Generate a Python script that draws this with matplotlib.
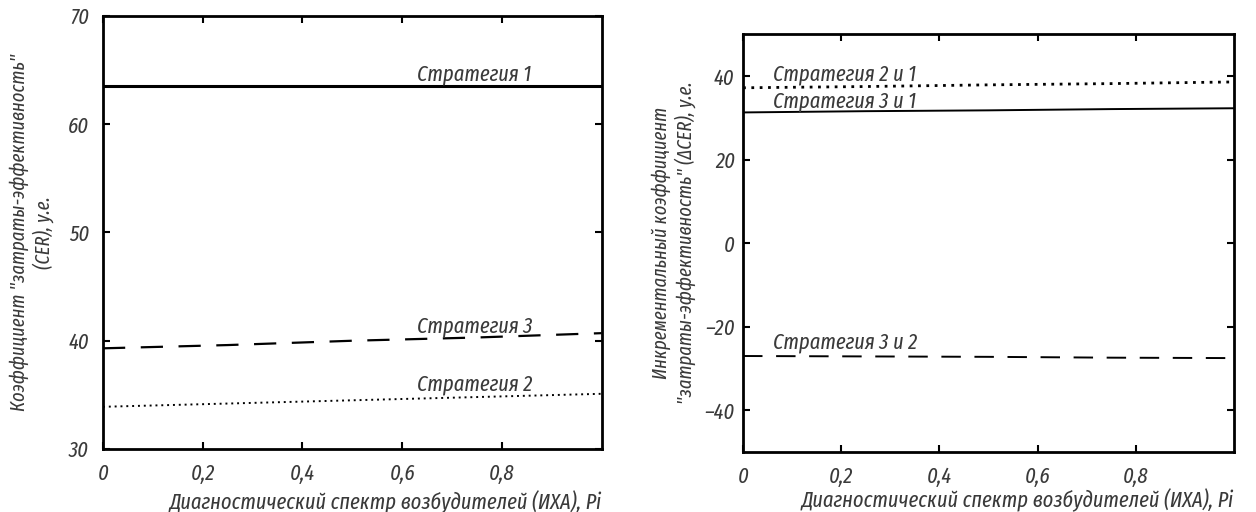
import matplotlib
matplotlib.use('Agg')
import matplotlib.pyplot as plt
from matplotlib.ticker import FixedLocator, FuncFormatter

plt.rcParams['font.family'] = ['Fira Sans Extra Condensed', 'Fira Sans Condensed', 'DejaVu Sans']
plt.rcParams['font.style'] = 'italic'

# data
pi = [0.0, 0.25, 0.5, 0.75, 1.0]
cer_s1 = [63.5, 63.5, 63.5, 63.5, 63.5]
cer_s3 = [39.3, 39.6, 40.0, 40.3, 40.7]
cer_s2 = [33.9, 34.2, 34.5, 34.8, 35.1]

dcer_21 = [37.2, 37.5, 37.9, 38.2, 38.6]
dcer_31 = [31.3, 31.6, 31.8, 32.1, 32.3]
dcer_32 = [-27.0, -27.1, -27.2, -27.4, -27.5]

x_ticks = [0, 0.2, 0.4, 0.6, 0.8]
TXT = '#3a3a3a'
LFS = 16  # strategy label size
XLABEL = 'Диагностический спектр возбудителей (ИХА), Pi'


def comma(v, pos):
    if v == 0:
        return '0'
    return ('%g' % v).replace('.', ',')


def style_axes(ax, ypad, xlpad):
    for s in ax.spines.values():
        s.set_linewidth(2)
    ax.set_xlim(0, 1)
    ax.xaxis.set_major_locator(FixedLocator(x_ticks))
    ax.xaxis.set_major_formatter(FuncFormatter(comma))
    ax.tick_params(direction='in', length=5, width=1.5, top=True, right=True,
                   labelsize=16, labelcolor=TXT)
    ax.tick_params(axis='x', pad=10)
    ax.tick_params(axis='y', pad=ypad)
    ax.set_xlabel(XLABEL, fontsize=16, color=TXT, loc='right', labelpad=xlpad)


fig = plt.figure(figsize=(12.56, 5.12), dpi=100)

ax1 = fig.add_axes([0.082, 0.123, 0.397, 0.846])
ax1.plot(pi, cer_s1, color='black', lw=2.2)
ax1.plot(pi, cer_s3, color='black', lw=1.6, dashes=(10, 7))
ax1.plot(pi, cer_s2, color='black', lw=1.4, linestyle=(0, (1, 2)))
ax1.set_ylim(30, 70)
ax1.set_yticks([30, 40, 50, 60, 70])
style_axes(ax1, 10, 4)
ax1.set_ylabel('Коэффициент "затраты-эффективность"\n(CER), у.е.',
               fontsize=14.5, color=TXT, labelpad=10)
ax1.text(0.63, 64.0, 'Стратегия 1', fontsize=LFS, color=TXT)
ax1.text(0.63, 40.8, 'Стратегия 3', fontsize=LFS, color=TXT)
ax1.text(0.63, 35.4, 'Стратегия 2', fontsize=LFS, color=TXT)

ax2 = fig.add_axes([0.5916, 0.117, 0.391, 0.816])
ax2.plot(pi, dcer_21, color='black', lw=2, linestyle=(0, (1, 2)))
ax2.plot(pi, dcer_31, color='black', lw=1.4)
ax2.plot(pi, dcer_32, color='black', lw=1.4, dashes=(10, 7))
ax2.set_ylim(-50, 50)
ax2.set_yticks([-40, -20, 0, 20, 40])
ax2.yaxis.set_major_formatter(FuncFormatter(lambda v, p: ('%d' % v).replace('-', '\u2013')))
style_axes(ax2, 6, 1)
ax2.set_ylabel('Инкрементальный коэффициент\n"затраты-эффективность" (\u0394CER), у.е.',
               fontsize=14.5, color=TXT, labelpad=6)
ax2.text(0.06, 39.0, 'Стратегия 2 и 1', fontsize=LFS, color=TXT)
ax2.text(0.06, 32.6, 'Стратегия 3 и 1', fontsize=LFS, color=TXT)
ax2.text(0.06, -25.1, 'Стратегия 3 и 2', fontsize=LFS, color=TXT)

fig.savefig('out.png', dpi=100)
